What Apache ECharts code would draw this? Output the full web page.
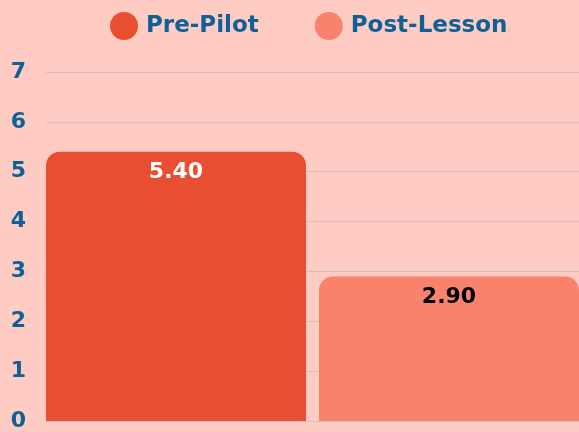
<!DOCTYPE html>
<html>
<head>
<meta charset="utf-8">
<script src="https://cdn.jsdelivr.net/npm/echarts@6/dist/echarts.min.js"></script>
<style>
  html, body { margin: 0; padding: 0; background: #ffccc4; }
  #chart { width: 579px; height: 432px; }
</style>
</head>
<body>
<div id="chart"></div>
<script>
const categories = ['Score'];
const preValues = [5.40];
const postValues = [2.90];
const seriesNames = ['Pre-Pilot', 'Post-Lesson'];

const blue = '#0f6096';
const font = 'DejaVu Sans';

const myChart = echarts.init(document.getElementById('chart'));
const option = {
    backgroundColor: '#ffccc4',
    textStyle: { fontFamily: font },
    legend: {
        top: 7,
        left: 105,
        icon: 'circle',
        itemWidth: 30,
        itemHeight: 28,
        itemGap: 56,
        textStyle: { color: blue, fontSize: 23, fontWeight: 'bold', fontFamily: font, padding: [0, 0, 0, 2] },
        data: seriesNames
    },
    grid: { left: 46, right: 0, top: 72, bottom: 7 },
    xAxis: {
        type: 'category',
        data: categories,
        axisLine: { show: false },
        axisTick: { show: false },
        axisLabel: { show: false }
    },
    yAxis: {
        type: 'value',
        min: 0,
        max: 7,
        interval: 1,
        axisLabel: { color: blue, fontSize: 22, fontWeight: 'bold', fontFamily: font, margin: 20, padding: [3, 0, 0, 0] },
        splitLine: { lineStyle: { color: '#d3bfc4', width: 1 } }
    },
    series: [
        {
            name: seriesNames[0],
            type: 'bar',
            data: preValues,
            barGap: '5%',
            barCategoryGap: '0%',
            itemStyle: { color: '#e84e31', borderRadius: [14, 14, 0, 0] },
            label: {
                show: true, position: 'insideTop', distance: 10,
                formatter: (p) => p.value.toFixed(2),
                color: '#ffffff', fontSize: 22, fontWeight: 'bold', fontFamily: font
            }
        },
        {
            name: seriesNames[1],
            type: 'bar',
            data: postValues,
            itemStyle: { color: '#f9826c', borderRadius: [14, 14, 0, 0] },
            label: {
                show: true, position: 'insideTop', distance: 10,
                formatter: (p) => p.value.toFixed(2),
                color: '#000000', fontSize: 22, fontWeight: 'bold', fontFamily: font
            }
        }
    ]
};
myChart.setOption(option);
</script>
</body>
</html>
